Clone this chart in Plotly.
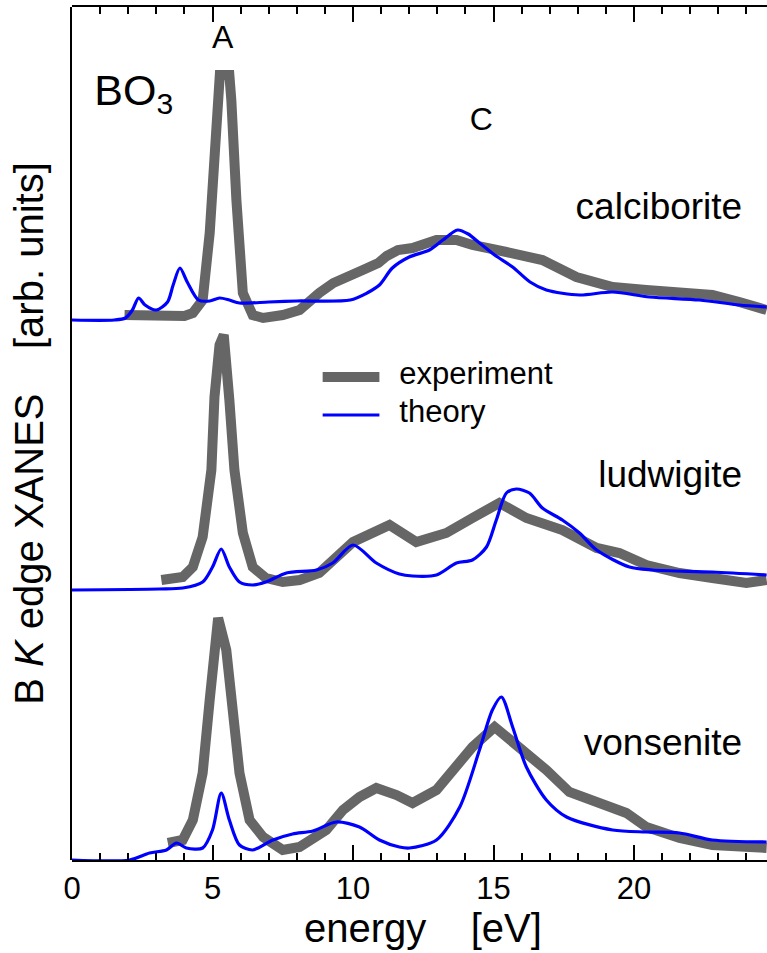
import plotly.graph_objects as go

# ---------------- data (energy in eV, intensity in arb. units) ----------------
calc_exp_x = [1.87, 2.5, 3.36, 4.0, 4.3, 4.65, 4.9, 5.13, 5.26, 5.6, 5.67, 5.85, 6.08, 6.43, 6.8, 7.5, 8.1, 8.8, 9.3,
              10.35, 10.9, 11.2, 11.6, 12.12, 12.97, 13.68, 14.25, 15.46, 16.74, 17.95, 19.24, 20.44, 22.79, 23.75, 24.72]
calc_exp_y = [5, 4, 3, 4, 7, 20, 87, 187, 245, 245, 220, 120, 27, 5, 2, 5, 10, 27, 37,
              50, 57, 64, 70, 72, 80, 80, 75, 68, 60, 43, 33, 30, 25, 18, 10]
calc_th_x = [0, 1.5, 1.9, 2.15, 2.37, 2.6, 3.0, 3.4, 3.6, 3.84, 4.1, 4.5, 4.9, 5.25, 5.6, 5.96, 7, 8, 9.9,
             10.5, 10.94, 11.4, 12.0, 12.72, 13.2, 13.72, 14.1, 14.5, 15.04, 15.68, 16.3, 16.88, 18.06, 19.23,
             20.55, 22.33, 23.75, 24.72]
calc_th_y = [0, 0, 2, 10, 22, 15, 10, 18, 35, 52, 38, 20, 19, 22, 20, 17, 18, 19, 20,
             27, 35, 52, 63, 70, 80, 90, 86, 77, 65, 53, 38, 30, 25, 28,
             23, 20, 15, 13]

lud_exp_x = [3.18, 3.94, 4.3, 4.65, 4.96, 5.07, 5.25, 5.4, 5.6, 5.78, 6.08, 6.43, 6.9, 7.5, 8.1, 8.8, 10.0,
             10.94, 11.3, 12.25, 13.32, 14.25, 15.21, 16.17, 17.45, 18.67, 19.48, 20.44, 21.62, 22.79, 24.0, 24.72]
lud_exp_y = [10, 13, 23, 53, 120, 193, 245, 255, 190, 120, 57, 23, 12, 8, 10, 17, 48,
             62, 65, 48, 57, 72, 87, 72, 60, 42, 37, 25, 17, 12, 7, 10]
lud_th_x = [0, 3.11, 3.94, 4.65, 5.0, 5.31, 5.6, 5.96, 6.43, 6.9, 7.63, 8.7, 9.28, 10.0, 10.83, 11.65, 12.12,
            12.97, 13.68, 14.25, 14.75, 15.1, 15.46, 15.81, 16.28, 16.74, 17.45, 18.06, 18.67, 19.84, 20.66,
            22.79, 24.72]
lud_th_y = [0, 1, 2, 8, 23, 41, 23, 8, 5, 8, 17, 20, 27, 45, 27, 16, 14,
            15, 27, 30, 43, 70, 97, 101, 97, 82, 70, 57, 40, 23, 20,
            18, 15]

von_exp_x = [3.41, 3.94, 4.3, 4.65, 4.9, 5.13, 5.2, 5.49, 5.72, 5.96, 6.32, 6.8, 7.5, 8.1, 9.05, 9.64, 10.23,
             10.83, 11.55, 12.12, 12.97, 13.9, 14.25, 15.04, 15.93, 16.88, 17.7, 19.73, 20.44, 21.62, 22.79, 24.72]
von_exp_y = [17, 20, 40, 87, 160, 240, 242, 210, 143, 87, 40, 23, 10, 13, 30, 50, 63,
             72, 65, 57, 70, 103, 113, 133, 113, 90, 68, 47, 33, 22, 15, 12]
von_th_x = [0, 2.05, 2.76, 3.36, 3.72, 4.07, 4.65, 5.0, 5.31, 5.6, 5.96, 6.43, 7.15, 7.85, 8.57, 9.4, 10.23,
            10.94, 11.65, 12.01, 12.97, 13.8, 14.5, 14.96, 15.28, 15.68, 16.17, 16.88, 17.6, 19.24, 20.44,
            21.62, 22.79, 24.72]
von_th_y = [0, 0, 7, 10, 17, 12, 12, 30, 67, 40, 15, 10, 20, 26, 29, 38, 33,
            20, 13, 12, 20, 53, 110, 150, 163, 133, 93, 60, 43, 30, 28,
            27, 20, 18]

minerals = ["calciborite", "ludwigite", "vonsenite"]
offsets = [540, 270, 0]          # vertical stacking offsets
series = [
    (calc_exp_x, calc_exp_y, calc_th_x, calc_th_y),
    (lud_exp_x, lud_exp_y, lud_th_x, lud_th_y),
    (von_exp_x, von_exp_y, von_th_x, von_th_y),
]
legend_names = ["experiment", "theory"]

GRAY = "#666666"
BLUE = "#0000ff"
FONT = "Liberation Sans, Arial, sans-serif"
XMAX = 695 / 28.1

fig = go.Figure()
for (ex, ey, tx, ty), off in zip(series, offsets):
    fig.add_trace(go.Scatter(x=ex, y=[v + off for v in ey], mode="lines",
                             line=dict(color=GRAY, width=10), showlegend=False, hoverinfo="skip"))
    fig.add_trace(go.Scatter(x=tx, y=[v + off for v in ty], mode="lines",
                             line=dict(color=BLUE, width=3.2, shape="spline", smoothing=0.8),
                             showlegend=False, hoverinfo="skip"))

# legend samples drawn as short line traces
fig.add_trace(go.Scatter(x=[8.92, 10.94], y=[483, 483], mode="lines", line=dict(color=GRAY, width=10),
                         showlegend=False, hoverinfo="skip"))
fig.add_trace(go.Scatter(x=[8.92, 10.94], y=[445, 445], mode="lines", line=dict(color=BLUE, width=3.2),
                         showlegend=False, hoverinfo="skip"))


def label(x, y, s, size, pos="middle center"):
    fig.add_trace(go.Scatter(x=[x], y=[y], mode="text", text=[s], textposition=pos,
                             textfont=dict(size=size, color="black", family=FONT),
                             showlegend=False, hoverinfo="skip"))


label(11.65, 484, legend_names[0], 31, "middle right")
label(11.65, 446, legend_names[1], 31, "middle right")
label(5.36, 820, "A", 32)
label(14.57, 738, "C", 32)
label(2.2, 766, "BO<sub>3</sub>", 43)
label(23.85, 650, minerals[0], 37, "middle left")
label(23.85, 382, minerals[1], 37, "middle left")
label(23.85, 114, minerals[2], 37, "middle left")

# empty trace on a second, coincident subplot that carries the tick marks and labels
fig.add_trace(go.Scatter(x=[None], y=[None], xaxis="x2", yaxis="y2", mode="lines",
                         showlegend=False, hoverinfo="skip"))

fig.update_layout(
    width=767, height=953,
    margin=dict(l=72, r=0, t=7, b=93),
    paper_bgcolor="white", plot_bgcolor="rgba(0,0,0,0)",
    font=dict(family=FONT, color="black"),
    annotations=[dict(x=0.505, y=-0.0797, xref="paper", yref="paper", showarrow=False,
                      text="energy\u00a0\u00a0\u00a0\u00a0[eV]", xanchor="center", yanchor="middle",
                      font=dict(size=40, family=FONT, color="black"))],
    xaxis=dict(domain=[0, 1], anchor="y", range=[0, XMAX], showticklabels=False, ticks="",
               showline=False, showgrid=False, zeroline=False, automargin=False),
    yaxis=dict(domain=[0, 1], anchor="x", range=[0, 853], showticklabels=False, ticks="",
               showline=True, linecolor="black", linewidth=2, showgrid=False, zeroline=False,
               automargin=True,
               title=dict(text="B <i>K</i> edge XANES\u00a0\u00a0\u00a0\u00a0[arb. units]",
                          font=dict(size=40, family=FONT, color="black"), standoff=14)),
    xaxis2=dict(domain=[0, 1], anchor="y2", range=[0, XMAX], tickmode="linear", tick0=0, dtick=5,
                ticks="inside", ticklen=15, tickwidth=2, tickcolor="black",
                minor=dict(tickmode="linear", tick0=0, dtick=1, ticks="inside", ticklen=7, tickwidth=1.5,
                           tickcolor="black"),
                showline=True, linecolor="black", linewidth=2, mirror="ticks",
                showgrid=False, zeroline=False, automargin=False,
                tickfont=dict(size=31, family=FONT, color="black")),
    yaxis2=dict(domain=[0, 1], anchor="x2", showticklabels=False, ticks="", showline=False,
                showgrid=False, zeroline=False, automargin=False),
)

fig.write_html("out.html")
